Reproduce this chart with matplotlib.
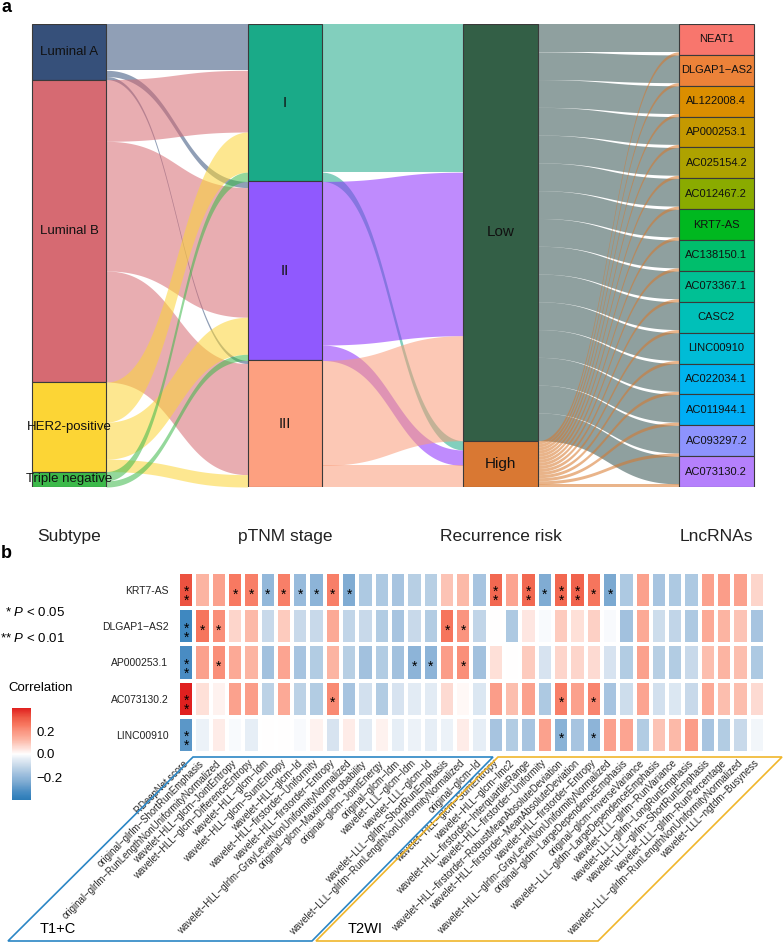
"""
Two-panel figure: (a) alluvial plot subtype -> stage -> risk -> lncRNA,
(b) correlation heatmap of lncRNAs vs radiomic features.
"""
import numpy as np
import matplotlib
matplotlib.use("Agg")
import matplotlib as mpl
import matplotlib.pyplot as plt
from matplotlib.colors import LinearSegmentedColormap, Normalize
from matplotlib.patches import Rectangle, Polygon

plt.rcParams["font.family"] = ["Liberation Sans", "DejaVu Sans"]
plt.rcParams["mathtext.fontset"] = "custom"
plt.rcParams["mathtext.rm"] = "Liberation Sans"
plt.rcParams["mathtext.it"] = "Liberation Sans:italic"

W, H = 784, 944

# ---------------- panel a data ----------------
axis_names = ["Subtype", "pTNM stage", "Recurrence risk", "LncRNAs"]
subtypes = ["Luminal A", "Luminal B", "HER2-positive", "Triple negative"]
stages = ["I", "II", "III"]
risks = ["Low", "High"]
lncrnas = ["NEAT1", "DLGAP1−AS2", "AL122008.4", "AP000253.1", "AC025154.2",
           "AC012467.2", "KRT7-AS", "AC138150.1", "AC073367.1", "CASC2",
           "LINC00910", "AC022034.1", "AC011944.1", "AC093297.2", "AC073130.2"]

# flow counts, rows = left stratum, columns = right stratum
subtype_to_stage = [[15, 2, 1],
                    [20, 42, 36],
                    [13, 12, 4],
                    [3, 2, 0]]
stage_to_risk = [[48, 3],
                 [53, 5],
                 [34, 7]]
risk_to_lnc = [[9, 9, 9, 9, 9, 9, 9, 9, 9, 9, 9, 9, 9, 9, 9],
               [1, 1, 1, 1, 1, 1, 1, 1, 1, 1, 1, 1, 1, 1, 1]]

subtype_colors = ["#36507A", "#D66A72", "#FCD535", "#3CB94A"]
stage_colors = ["#1AAA88", "#9059FE", "#FDA080"]
risk_colors = ["#335F46", "#D97833"]
lnc_colors = ["#F8766D", "#EC8239", "#DB8E00", "#C59900", "#AEA200",
              "#8AAB00", "#00B81F", "#00BE6C", "#00C094", "#00C0B8",
              "#00BCD6", "#00B4EF", "#00AEF5", "#8D93FD", "#B580FC"]
# flow fills (drawn with alpha)
stage_flow_colors = ["#1CA887", "#8B2DFD", "#FA9B78"]
risk_flow_colors = ["#345250", "#D7772A"]

# ---------------- panel b data ----------------
lnc_rows = ["KRT7-AS", "DLGAP1−AS2", "AP000253.1", "AC073130.2", "LINC00910"]
t1_features = [
    "RDeepNet score",
    "original−glrlm−ShortRunEmphasis",
    "original−glrlm−RunLengthNonUniformityNormalized",
    "wavelet−HLL−glcm−JointEntropy",
    "wavelet−HLL−glcm−DifferenceEntropy",
    "wavelet−HLL−glcm−Idm",
    "wavelet−HLL−glcm−SumEntropy",
    "wavelet−HLL−glcm−Id",
    "wavelet−HLL−firstorder−Uniformity",
    "wavelet−HLL−firstorder−Entropy",
    "wavelet−HLL−glrlm−GrayLevelNonUniformityNormalized",
    "original−glcm−MaximumProbability",
    "original−glcm−JointEnergy",
    "original−glcm−Idm",
    "wavelet−LLL−glcm−Idm",
    "wavelet−LLL−glcm−Id",
    "wavelet−LLL−glrlm−ShortRunEmphasis",
    "wavelet−LLL−glrlm−RunLengthNonUniformityNormalized",
    "original−glcm−Id",
]
t2_features = [
    "wavelet−HLL−glcm−SumEntropy",
    "wavelet−HLL−glcm−Imc2",
    "wavelet−HLL−firstorder−InterquartileRange",
    "wavelet−HLL−firstorder−Uniformity",
    "wavelet−HLL−firstorder−RobustMeanAbsoluteDeviation",
    "wavelet−HLL−firstorder−MeanAbsoluteDeviation",
    "wavelet−HLL−firstorder−Entropy",
    "wavelet−HLL−glrlm−GrayLevelNonUniformityNormalized",
    "original−gldm−LargeDependenceEmphasis",
    "original−glcm−InverseVariance",
    "wavelet−LLL−gldm−LargeDependenceEmphasis",
    "wavelet−LLL−glrlm−RunVariance",
    "wavelet−LLL−glrlm−LongRunEmphasis",
    "wavelet−LLL−glrlm−ShortRunEmphasis",
    "wavelet−LLL−glrlm−RunPercentage",
    "wavelet−LLL−glrlm−RunLengthNonUniformityNormalized",
    "wavelet−LLL−ngtdm−Busyness",
]

corr_krt7 = [0.33, 0.13, 0.17, 0.25, 0.24, -0.20, 0.24, -0.19, -0.21, 0.24, -0.24, -0.15,
             -0.15, -0.16, -0.13, -0.13, 0.10, 0.12, -0.16, 0.29, 0.16, 0.29, -0.24, 0.29,
             0.30, 0.26, -0.25, -0.15, 0.17, -0.16, -0.15, -0.15, 0.17, 0.18, 0.17, 0.07]
corr_dlgap1 = [-0.35, 0.26, 0.21, 0.07, 0.12, -0.10, 0.09, -0.10, -0.10, 0.15, -0.11, -0.10,
               -0.14, -0.16, -0.10, -0.14, 0.26, 0.20, -0.11, 0.00, -0.15, 0.04, -0.01, 0.09,
               0.05, 0.08, -0.01, -0.17, 0.15, -0.09, -0.11, -0.15, 0.15, 0.13, 0.10, -0.16]
corr_ap000253 = [-0.33, 0.17, 0.21, 0.15, 0.13, -0.17, 0.16, -0.16, -0.14, 0.13, -0.13, -0.17,
                 -0.14, -0.17, -0.21, -0.21, 0.18, 0.21, -0.17, 0.05, 0.00, 0.09, -0.07, 0.07,
                 0.07, 0.06, -0.07, -0.14, 0.17, -0.13, -0.14, -0.10, 0.11, 0.13, 0.11, -0.15]
corr_ac073130 = [0.40, 0.05, 0.02, 0.17, 0.18, -0.12, 0.15, -0.12, -0.14, 0.22, -0.16, -0.08,
                 -0.14, -0.07, -0.05, -0.05, 0.06, 0.01, -0.06, 0.18, 0.11, 0.17, -0.15, 0.24,
                 0.17, 0.23, -0.16, -0.09, 0.16, -0.08, -0.06, -0.10, 0.15, 0.11, 0.11, 0.06]
corr_linc00910 = [-0.30, -0.03, 0.03, -0.01, -0.04, 0.00, 0.00, -0.01, 0.02, -0.07, 0.03, -0.05,
                  0.02, -0.04, -0.03, -0.04, -0.03, 0.03, -0.04, -0.16, -0.14, -0.16, 0.17, -0.22,
                  -0.16, -0.21, 0.17, 0.16, -0.14, 0.10, 0.12, 0.18, -0.16, -0.14, -0.10, -0.02]

# columns with P < 0.05 (*) and P < 0.01 (**), per row
p05_cols = [[3, 4, 5, 6, 7, 8, 9, 10, 22, 25, 26], [1, 2, 16, 17], [2, 14, 15, 17],
            [9, 23, 25], [23, 25]]
p01_cols = [[0, 19, 21, 23, 24], [0], [0], [0], [0]]


def px(x, y):
    """pixel (from top-left) -> figure fraction"""
    return x / W, 1 - y / H


fig = plt.figure(figsize=(W / 100, H / 100), dpi=100)

# ================= panel a: alluvial =================
N = float(np.sum(subtype_to_stage))
spacing = 215.8
x1_px = 69
ax = fig.add_axes([0, 1 - 487 / H, 1, (487 - 24) / H])
ax.set_xlim(1 - x1_px / spacing, 1 + (W - x1_px) / spacing)
ax.set_ylim(0, N)
bw = 0.345  # stratum width


def node_tops(sizes):
    sizes = np.asarray(sizes, dtype=float)
    return N - np.concatenate([[0], np.cumsum(sizes)[:-1]])


def draw_nodes(xc, sizes, names, colors, fs):
    tops = node_tops(sizes)
    for top, s, name, c in zip(tops, sizes, names, colors):
        ax.add_patch(Rectangle((xc - bw / 2, top - s), bw, s, facecolor=c,
                               edgecolor="#3a3a3a", linewidth=0.8, zorder=3))
        ax.text(xc, top - s / 2, name, ha="center", va="center", fontsize=fs,
                color="#111111", zorder=4, clip_on=False)


def draw_flows(xa, xb, mat, colors):
    mat = np.asarray(mat, dtype=float)
    src_top = node_tops(mat.sum(axis=1))
    tgt_top = node_tops(mat.sum(axis=0))
    out_off = np.zeros(mat.shape[0])
    in_off = np.zeros(mat.shape[1])
    x0, x1 = xa + bw / 2, xb - bw / 2
    dx = x1 - x0
    t = np.linspace(0, 1, 80)
    b0, b1, b2, b3 = (1 - t) ** 3, 3 * (1 - t) ** 2 * t, 3 * (1 - t) * t ** 2, t ** 3
    x = b0 * x0 + b1 * (x0 + 0.5 * dx) + b2 * (x1 - 0.5 * dx) + b3 * x1
    for i in range(mat.shape[0]):
        for j in range(mat.shape[1]):
            v = mat[i, j]
            if v <= 0:
                continue
            ys = src_top[i] - out_off[i]
            yt = tgt_top[j] - in_off[j]
            top = (b0 + b1) * ys + (b2 + b3) * yt
            bot = (b0 + b1) * (ys - v) + (b2 + b3) * (yt - v)
            ax.fill_between(x, bot, top, color=colors[i], alpha=0.55, linewidth=0, zorder=2)
            out_off[i] += v
            in_off[j] += v


draw_flows(1, 2, subtype_to_stage, subtype_colors)
draw_flows(2, 3, stage_to_risk, stage_flow_colors)
draw_flows(3, 4, risk_to_lnc, risk_flow_colors)

draw_nodes(1, np.sum(subtype_to_stage, axis=1), subtypes, subtype_colors, 9.5)
draw_nodes(2, np.sum(subtype_to_stage, axis=0), stages, stage_colors, 10.5)
draw_nodes(3, np.sum(stage_to_risk, axis=0), risks, risk_colors, 11)
draw_nodes(4, np.sum(risk_to_lnc, axis=0), lncrnas, lnc_colors, 8)

ax.set_xticks([1, 2, 3, 4])
ax.set_xticklabels(axis_names, fontsize=12.5, color="#222222")
ax.tick_params(axis="x", length=0, pad=30)
ax.set_yticks([])
for sp in ax.spines.values():
    sp.set_visible(False)

# ================= panel b: heatmap =================
corr = np.array([corr_krt7, corr_dlgap1, corr_ap000253, corr_ac073130, corr_linc00910])
features = t1_features + t2_features

stops = [(-0.40, "#2C7BB6"), (-0.36, "#3A85BF"), (-0.32, "#4E8FC4"), (-0.25, "#7BA9D1"),
         (-0.20, "#93B8DA"), (-0.16, "#A8C5E0"), (-0.12, "#BCD2E6"), (-0.08, "#D2E0EE"),
         (-0.04, "#E6EEF6"), (0.0, "#FFFFFF"), (0.04, "#FEE6E0"), (0.08, "#FDD0C5"),
         (0.12, "#FCB9A8"), (0.16, "#FCA592"), (0.20, "#FA9580"), (0.25, "#F87A62"),
         (0.32, "#EE5A45"), (0.40, "#E0201F")]
cmap = LinearSegmentedColormap.from_list(
    "corr", [((v + 0.4) / 0.8, c) for v, c in stops])
norm = Normalize(-0.4, 0.4)

hx0, hx1, hy0, hy1 = 178, 765, 572, 753
hax = fig.add_axes([hx0 / W, 1 - hy1 / H, (hx1 - hx0) / W, (hy1 - hy0) / H])
hax.pcolormesh(corr, cmap=cmap, norm=norm, edgecolors="white", linewidth=1.6)
hax.set_xlim(0, len(features))
hax.set_ylim(len(lnc_rows), 0)
hax.set_yticks(np.arange(len(lnc_rows)) + 0.5)
hax.set_yticklabels(lnc_rows, fontsize=7.5, color="#222222")
hax.set_xticks(np.arange(len(features)) + 0.5)
hax.set_xticklabels(features, fontsize=6.9, color="#2a2a2a", rotation=45,
                    ha="right", va="center", rotation_mode="anchor")
hax.tick_params(axis="y", length=0, pad=7)
hax.tick_params(axis="x", length=0, pad=6.5)
for sp in hax.spines.values():
    sp.set_visible(False)

for r in range(len(lnc_rows)):
    for c in p05_cols[r]:
        hax.text(c + 0.5, r + 0.62, "*", ha="center", va="center",
                 fontsize=10, color="black")
    for c in p01_cols[r]:
        hax.text(c + 0.5, r + 0.68, "*\n*", ha="center", va="center",
                 linespacing=0.55, fontsize=10, color="black")

# significance legend
fig.text(*px(65, 613), r"* $P$ < 0.05", ha="right", va="center", fontsize=9.5)
fig.text(*px(65, 638), r"** $P$ < 0.01", ha="right", va="center", fontsize=9.5)
fig.text(*px(8, 688), "Correlation", ha="left", va="center", fontsize=9.5)

cax = fig.add_axes([12 / W, 1 - 800 / H, 19 / W, 92 / H])
cb = mpl.colorbar.ColorbarBase(cax, cmap=cmap, norm=norm, orientation="vertical")
cb.set_ticks([0.2, 0.0, -0.2])
cb.set_ticklabels(["0.2", "0.0", "−0.2"])
cb.outline.set_visible(False)
cax.tick_params(length=0, pad=4, labelsize=9.5)

# feature group frames
deco = fig.add_axes([0, 0, 1, 1])
deco.set_xlim(0, W)
deco.set_ylim(H, 0)
deco.axis("off")
deco.add_patch(Polygon([(193, 757), (493, 757), (312, 941), (8, 941)], closed=True,
                       fill=False, edgecolor="#2B86C5", linewidth=1.2))
deco.add_patch(Polygon([(498, 757), (782, 757), (598, 941), (316, 941)], closed=True,
                       fill=False, edgecolor="#F0B62B", linewidth=1.2))
deco.text(40, 929, "T1+C", ha="left", va="center", fontsize=10.5)
deco.text(348, 929, "T2WI", ha="left", va="center", fontsize=10.5)

# panel letters
fig.text(*px(2, 8), "a", fontsize=13, fontweight="bold", ha="left", va="center")
fig.text(*px(1, 553), "b", fontsize=13, fontweight="bold", ha="left", va="center")

fig.savefig("out.png", dpi=100)
